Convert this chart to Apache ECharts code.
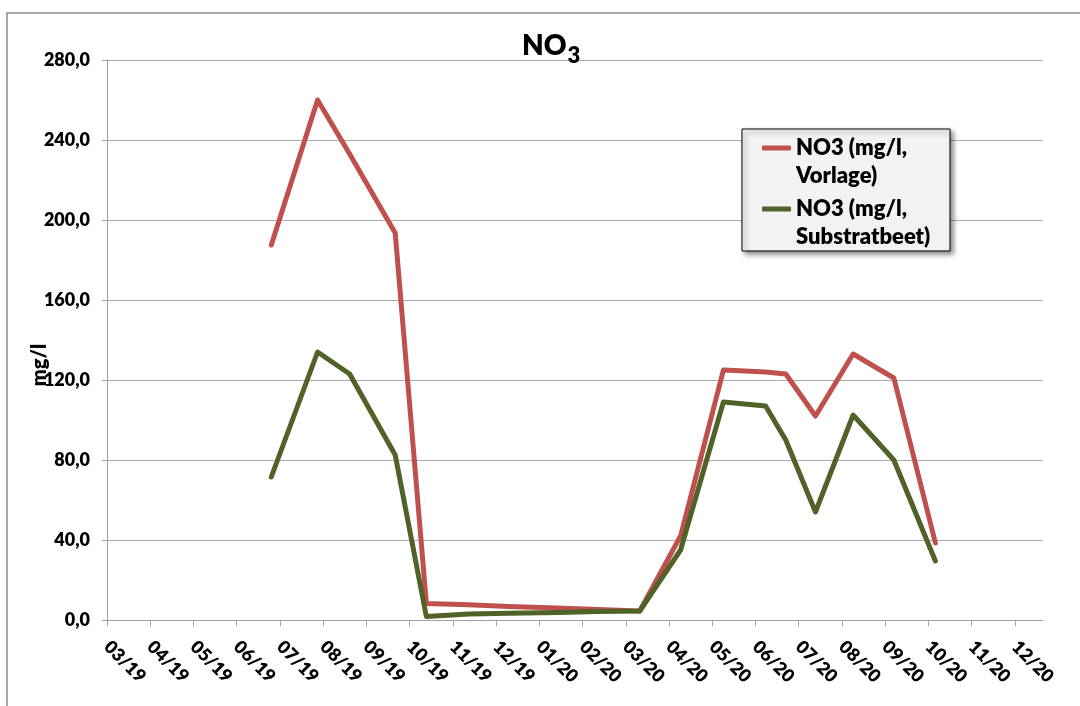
<!DOCTYPE html>
<html>
<head>
<meta charset="utf-8">
<script src="https://cdn.jsdelivr.net/npm/echarts@6/dist/echarts.min.js"></script>
<style>
  html, body { margin: 0; padding: 0; background: #ffffff; }
  #chart { width: 1080px; height: 706px; }
</style>
</head>
<body>
<div id="chart"></div>
<script>
// Sampling dates (YYYY-MM-DD)
const sampleDates = [
  '2019-06-25', '2019-07-28', '2019-08-20', '2019-09-21', '2019-10-13',
  '2019-11-12', '2019-12-10', '2020-01-14', '2020-02-11', '2020-03-11',
  '2020-04-09', '2020-05-09', '2020-06-08', '2020-06-22', '2020-07-13',
  '2020-08-09', '2020-09-07', '2020-10-06'
];
// NO3 in mg/l, feed tank
const vorlage = [
  187.5, 260.0, 233.0, 193.5, 8.3,
  7.6, 6.8, 6.0, 5.2, 4.5,
  42.0, 125.0, 124.0, 123.0, 102.0,
  133.0, 121.0, 38.5
];
// NO3 in mg/l, substrate bed
const substratbeet = [
  71.5, 134.0, 123.0, 82.5, 1.7,
  3.0, 3.4, 3.8, 4.2, 4.5,
  35.0, 109.0, 107.0, 90.0, 54.0,
  102.5, 80.0, 29.5
];
// Month tick labels along the time axis
const monthLabels = [
  '03/19', '04/19', '05/19', '06/19', '07/19', '08/19', '09/19', '10/19',
  '11/19', '12/19', '01/20', '02/20', '03/20', '04/20', '05/20', '06/20',
  '07/20', '08/20', '09/20', '10/20', '11/20', '12/20'
];
const seriesNames = ['NO3 (mg/l,\nVorlage)', 'NO3 (mg/l,\nSubstratbeet)'];

// Fractional month position counted from March 2019
function monthIndex(s) {
  const [y, m, d] = s.split('-').map(Number);
  const days = new Date(y, m, 0).getDate();
  return (y - 2019) * 12 + (m - 3) + (d - 1) / days;
}

const FONT = 'Lato, "Liberation Sans", sans-serif';
const WEIGHT = 800;
const monthTicks = monthLabels.map((_, i) => i);

const chart = echarts.init(document.getElementById('chart'), null, { renderer: 'canvas' });

chart.setOption({
  backgroundColor: '#ffffff',
  animation: false,
  textStyle: { fontFamily: FONT },
  title: {
    text: '{n|NO}{s|3}',
    left: 522,
    top: 25,
    padding: 0,
    textStyle: {
      rich: {
        n: { fontFamily: FONT, fontSize: 28, fontWeight: WEIGHT, color: '#000' },
        s: { fontFamily: FONT, fontSize: 22, fontWeight: WEIGHT, color: '#000', padding: [20, 0, 0, 1] }
      }
    }
  },
  grid: { left: 107, right: 37, top: 60, bottom: 86, containLabel: false },
  xAxis: {
    type: 'value',
    min: 0,
    max: 21.65,
    interval: 1,
    splitLine: { show: false },
    axisLine: { show: true, lineStyle: { color: '#a0a0a0', width: 1 } },
    axisTick: { show: true, customValues: monthTicks, length: 6, lineStyle: { color: '#a0a0a0' } },
    axisLabel: {
      customValues: monthTicks,
      rotate: -45,
      margin: 24,
      fontFamily: FONT,
      fontSize: 18,
      fontWeight: WEIGHT,
      color: '#000',
      formatter: (v) => monthLabels[Math.round(v)] || ''
    }
  },
  yAxis: {
    type: 'value',
    min: 0,
    max: 280,
    interval: 40,
    axisLine: { show: true, lineStyle: { color: '#a0a0a0', width: 1 } },
    axisTick: { show: true, inside: false, length: 5, lineStyle: { color: '#a0a0a0' } },
    splitLine: { show: true, lineStyle: { color: '#ababab', width: 1 } },
    axisLabel: {
      margin: 17,
      fontFamily: FONT,
      fontSize: 18,
      fontWeight: WEIGHT,
      color: '#000',
      formatter: (v) => v.toFixed(1).replace('.', ',')
    }
  },
  legend: {
    orient: 'vertical',
    left: 762,
    top: 106,
    padding: 0,
    itemGap: -23,
    itemWidth: 29,
    itemHeight: 5,
    icon: 'roundRect',
    z: 6,
    formatter: (name) => '\n' + name,
    textStyle: {
      fontFamily: FONT,
      fontSize: 22,
      fontWeight: WEIGHT,
      color: '#000',
      lineHeight: 28
    },
    data: seriesNames
  },
  graphic: {
    elements: [
      {
        type: 'rect',
        z: 0,
        silent: true,
        shape: { x: 7, y: 13, width: 1200, height: 800 },
        style: { fill: 'none', stroke: '#8a8a8a', lineWidth: 1.5 }
      },
      {
        type: 'rect',
        z: 5,
        silent: true,
        shape: { x: 742, y: 129, width: 208, height: 122 },
        style: {
          fill: '#f2f2f2', stroke: '#000000', lineWidth: 1,
          shadowBlur: 5, shadowOffsetX: 3, shadowOffsetY: 3, shadowColor: 'rgba(0,0,0,0.45)'
        }
      },
      {
        type: 'text',
        z: 5,
        silent: true,
        x: 40,
        y: 365,
        rotation: Math.PI / 2,
        style: {
          text: 'mg/l',
          font: WEIGHT + ' 20px ' + FONT,
          fill: '#000',
          align: 'center',
          verticalAlign: 'middle'
        }
      }
    ]
  },
  series: [
    {
      name: seriesNames[0],
      type: 'line',
      data: sampleDates.map((d, i) => [monthIndex(d), vorlage[i]]),
      symbol: 'none',
      color: '#c0504d',
      lineStyle: { width: 5, color: '#c0504d', join: 'round', cap: 'round' },
      z: 3
    },
    {
      name: seriesNames[1],
      type: 'line',
      data: sampleDates.map((d, i) => [monthIndex(d), substratbeet[i]]),
      symbol: 'none',
      color: '#4f6228',
      lineStyle: { width: 5, color: '#4f6228', join: 'round', cap: 'round' },
      z: 3
    }
  ]
});
</script>
</body>
</html>
